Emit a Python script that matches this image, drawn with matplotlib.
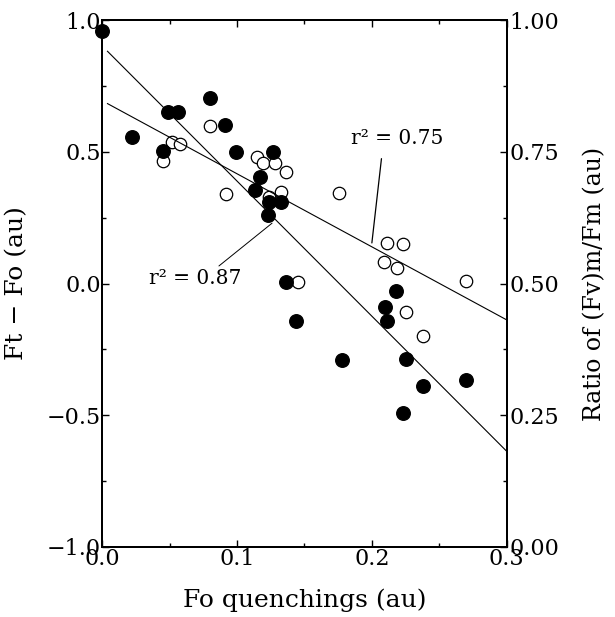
import numpy as np
import matplotlib
matplotlib.use('Agg')
from matplotlib import pyplot as plt
from matplotlib.ticker import MultipleLocator

# Ft - Fo (filled circles, left axis)
fill_x = [0.000, 0.022, 0.045, 0.049, 0.056, 0.080, 0.091, 0.099, 0.127, 0.117,
          0.113, 0.124, 0.133, 0.123, 0.136, 0.144, 0.178, 0.210, 0.211, 0.225,
          0.238, 0.270, 0.223, 0.218]
fill_y = [0.958, 0.556, 0.503, 0.651, 0.651, 0.704, 0.602, 0.499, 0.499, 0.404,
          0.355, 0.309, 0.309, 0.260, 0.006, -0.142, -0.290, -0.089, -0.142, -0.287,
          -0.389, -0.366, -0.491, -0.028]

# (Fv)m/Fm ratio (open circles, right axis)
open_x = [0.045, 0.052, 0.058, 0.080, 0.092, 0.115, 0.119, 0.128, 0.136, 0.124,
          0.133, 0.145, 0.176, 0.211, 0.223, 0.209, 0.219, 0.270, 0.225, 0.238]
open_y = [0.733, 0.768, 0.765, 0.799, 0.670, 0.740, 0.729, 0.729, 0.712, 0.664,
          0.674, 0.503, 0.672, 0.577, 0.575, 0.541, 0.530, 0.505, 0.446, 0.400]

# regression lines (intercept, slope)
fit_fill = (0.902, -5.13)
fit_open = (0.847, -1.387)

plt.rcParams['font.family'] = 'DejaVu Serif'

fig = plt.figure(figsize=(6.15, 6.17), dpi=100)
ax = fig.add_axes([0.166, 0.1135, 0.658, 0.854])
ax2 = ax.twinx()
# filled points on top of the open ones
ax.set_zorder(ax2.get_zorder() + 1)
ax.patch.set_visible(False)

xl = np.array([0.004, 0.3])
ax.plot(xl, fit_fill[0] + fit_fill[1] * xl, color='black', lw=0.8)
ax2.plot(xl, fit_open[0] + fit_open[1] * xl, color='black', lw=0.8)

ax2.scatter(open_x, open_y, s=80, facecolor='white', edgecolor='black', linewidth=0.9, clip_on=False)
ax.scatter(fill_x, fill_y, s=95, color='black', clip_on=False)

ax.set_xlim(0, 0.3)
ax.set_ylim(-1, 1)
ax2.set_ylim(0, 1)

ax.xaxis.set_major_locator(MultipleLocator(0.1))
ax.xaxis.set_minor_locator(MultipleLocator(0.05))
ax.yaxis.set_major_locator(MultipleLocator(0.5))
ax.yaxis.set_minor_locator(MultipleLocator(0.25))
ax2.yaxis.set_major_locator(MultipleLocator(0.25))
ax2.yaxis.set_minor_locator(MultipleLocator(0.125))
ax.xaxis.set_major_formatter(lambda v, p: f'{v:.1f}')
ax.yaxis.set_major_formatter(lambda v, p: f'{v:.1f}'.replace('-', '\u2212'))
ax2.yaxis.set_major_formatter(lambda v, p: f'{v:.2f}')

ax.tick_params(which='both', direction='in', top=True, labelsize=16, length=5, width=1)
ax.tick_params(which='minor', length=3)
ax2.tick_params(which='both', direction='in', labelsize=16, length=5, width=1)
ax2.tick_params(which='minor', length=3)
ax.tick_params(axis='x', pad=1)
ax.tick_params(axis='y', pad=1)
ax2.tick_params(axis='y', pad=2)

for a in (ax, ax2):
    for s in a.spines.values():
        s.set_linewidth(1.4)

ax.set_xlabel('Fo quenchings (au)', fontsize=18)
ax.set_ylabel('Ft \u2212 Fo (au)', fontsize=18)
ax2.set_ylabel('Ratio of (Fv)m/Fm (au)', fontsize=17)
ax.xaxis.set_label_coords(0.5, -0.078)
ax.yaxis.set_label_coords(-0.183, 0.5)
ax2.yaxis.set_label_coords(1.19, 0.5)

# r² annotations
ax.annotate('r\u00b2 = 0.87', xy=(0.126, 0.229), xytext=(0.069, 0.02),
            fontsize=14.5, ha='center', va='center',
            arrowprops=dict(arrowstyle='-', color='black', lw=0.7,
                            shrinkA=0, shrinkB=0, relpos=(0.72, 1.0)))
ax.annotate('r\u00b2 = 0.75', xy=(0.200, 0.154), xytext=(0.219, 0.552),
            fontsize=14.5, ha='center', va='center',
            arrowprops=dict(arrowstyle='-', color='black', lw=0.9,
                            shrinkA=6, shrinkB=0, relpos=(0.34, 0.0)))

fig.savefig('out.png', dpi=100)
